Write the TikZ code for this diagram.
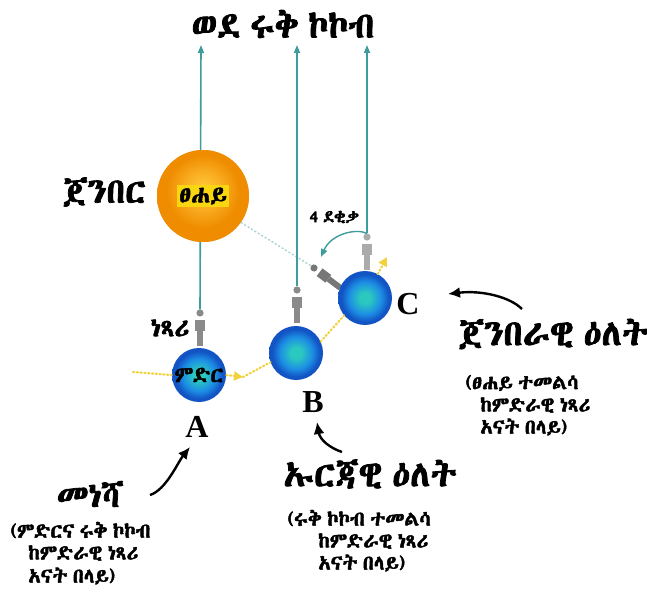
\documentclass[tikz,border=0pt]{standalone}
\usepackage{fontspec}
\usetikzlibrary{arrows.meta}
\IfFontExistsTF{Abyssinica SIL}{\newfontfamily\eth{Abyssinica SIL}[FakeBold=2.2,WordSpace=0.6]}{%
 \IfFontExistsTF{FreeSerif}{\newfontfamily\eth{FreeSerif}[FakeBold=2.2,WordSpace=0.6]}{%
  \IfFontExistsTF{FreeSans}{\newfontfamily\eth{FreeSans}[FakeBold=1.5,WordSpace=0.6]}{\newfontfamily\eth{DejaVu Sans}}}}
\newfontfamily\tms{Liberation Serif}
\definecolor{tealline}{HTML}{3E9C9C}
\definecolor{obsgray}{HTML}{8A8A8A}
\definecolor{obslight}{HTML}{ABABAB}
\definecolor{obsdark}{HTML}{777777}
\definecolor{orbitcol}{HTML}{F2D23C}
\definecolor{earthc}{HTML}{2BC8C0}
\definecolor{earthm}{HTML}{1C8EE4}
\definecolor{earthe}{HTML}{1254C4}
\definecolor{sunc}{HTML}{FFCC3A}
\definecolor{sunm}{HTML}{FAAE22}
\definecolor{sune}{HTML}{EF8C00}
\definecolor{sunlabel}{HTML}{F8D610}
\definecolor{dashcol}{HTML}{A8D4D4}
\pgfdeclareradialshading{earthshade}{\pgfpoint{0bp}{0bp}}{color(0bp)=(earthc); color(5bp)=(earthc); color(15bp)=(earthm); color(22bp)=(earthe); color(25bp)=(earthe); color(50bp)=(earthe)}
\pgfdeclareradialshading{sunshade}{\pgfpoint{0bp}{4bp}}{color(0bp)=(sunc); color(10bp)=(sunm); color(20bp)=(sune); color(25bp)=(sune); color(50bp)=(sune)}
\tikzset{
 earth/.style={circle, minimum size=54pt, inner sep=0pt, shading=earthshade},
 sunball/.style={circle, minimum size=92pt, inner sep=0pt, shading=sunshade},
 tealarrow/.style={draw=tealline, line width=1.6pt, -{Triangle[length=8pt,width=6pt]}, color=tealline},
 orbitline/.style={draw=orbitcol, line width=2.2pt, dash pattern=on 1.2pt off 2.6pt, line cap=round},
 orbittip/.style={-{Triangle[length=9pt,width=9pt,fill=orbitcol]}},
 blackarrow/.style={draw=black, line width=2.4pt, -{Latex[length=12pt,width=11pt]}},
 ethtxt/.style={font=\eth, text=black, inner sep=0pt},
 big/.style={font=\eth\fontsize{36}{36}\selectfont},
 small/.style={anchor=west, font=\eth\fontsize{20.5}{20.5}\selectfont},
 letter/.style={font=\tms\bfseries\fontsize{32}{32}\selectfont, inner sep=0pt},
 observer/.pic={
  \fill[pic actions] (0,0) circle (3.6pt);
  \fill[pic actions] (-4.8,7) rectangle (4.8,18);
  \fill[pic actions] (-3,18) rectangle (3,33);
  \coordinate (-head) at (0,-3.6);
 }
}
\begin{document}
\begin{tikzpicture}[x=1pt,y=-1pt]
\useasboundingbox (0,0) rectangle (647,593);
% arrow tops
\coordinate (topA) at (201,45);
\coordinate (topB) at (297,45);
\coordinate (topC) at (367,45);
% observers
\pic[fill=obsgray] (obsA) at (200,313) {observer};
\pic[fill=obsgray] (obsB) at (297,290) {observer};
\pic[fill=obslight] (obsC) at (367,237) {observer};
\pic[fill=obsdark, rotate=53] (obsT) at (314,268) {observer};
% sun
\node[sunball] (S) at (203,196) {};
\draw[dashcol, line width=1.4pt, dash pattern=on 2pt off 2pt] (S.-35) -- (obsT-head);
\draw[tealarrow] (obsA-head) -- (topA);
\draw[tealarrow] (obsB-head) -- (topB);
\draw[tealarrow] (obsC-head) -- (topC);
\node[sunball] (S) at (203,196) {};
\node[ethtxt, fill=sunlabel, inner xsep=2pt, inner ysep=3pt, font=\eth\fontsize{24}{24}\selectfont] (sunname) at (S) {ፀሐይ};
% orbit
\coordinate (orbStart) at (133,372);
\coordinate (orbMid) at (243,377);
\coordinate (orbEnd) at (387,257);
\node[earth] (A) at (199,375) {};
\node[earth] (B) at (296,353) {};
\node[earth] (C) at (365,298) {};
\draw[orbitline] (orbStart) -- (A.west);
\draw[orbitline, orbittip] (A.east) -- (orbMid);
\draw[orbitline] (orbMid) -- (B.200);
\draw[orbitline] (B.25) -- (C.220);
\draw[orbitline, orbittip] (C.62) -- (orbEnd);
\node[ethtxt, font=\eth\fontsize{22}{22}\selectfont] (earthname) at (A) {ምድር};
% rotation arrow
\coordinate (rotTip) at (321,257);
\draw[tealarrow, line width=1.4pt] (obsC-head) .. controls (356,228) and (331,234) .. (rotTip);
% texts
\node[ethtxt, big] (title) at (283,24) {ወደ ሩቅ ኮኮብ};
\node[ethtxt, font=\eth\fontsize{35}{35}\selectfont] (sunlbl) at (104,192) {ጀንበር};
\node[ethtxt, font=\eth\fontsize{26}{26}\selectfont] (obslbl) at (170,328) {ነጻሪ};
\node[ethtxt, font=\eth\fontsize{17}{17}\selectfont] (min4) at (334,217) {4 ደቂቃ};
\node[letter] (LA) at (197,427) {A};
\node[letter] (LB) at (313,402) {B};
\node[letter] (LC) at (408,304) {C};
% black arrows
\coordinate (cTail) at (522,309);
\coordinate (cTip) at (448,294);
\coordinate (bTail) at (342,452);
\coordinate (bTip) at (317,422);
\coordinate (aTail) at (150,495);
\coordinate (aTip) at (190,447);
\draw[blackarrow] (cTail) .. controls (510,297) and (482,290) .. (cTip);
\draw[blackarrow] (bTail) .. controls (330,448) and (320,440) .. (bTip);
\draw[blackarrow] (aTail) .. controls (166,490) and (178,462) .. (aTip);
% solar day
\node[ethtxt, big] (solar) at (553,334) {ጀንበራዊ ዕለት};
\node[ethtxt, small] (s1) at (465,383) {(ፀሐይ ተመልሳ};
\node[ethtxt, small] (s2) at (480,405) {ከምድራዊ ነጻሪ};
\node[ethtxt, small] (s3) at (480,427) {አናት በላይ)};
% sidereal day
\node[ethtxt, big] (sider) at (370,474) {ኡርጃዊ ዕለት};
\node[ethtxt, small] (d1) at (287,518) {(ሩቅ ኮኮብ ተመልሳ};
\node[ethtxt, small] (d2) at (318,541) {ከምድራዊ ነጻሪ};
\node[ethtxt, small] (d3) at (318,563) {አናት በላይ)};
% start
\node[ethtxt, font=\eth\fontsize{34}{34}\selectfont] (start) at (90,494) {መነሻ};
\node[ethtxt, small] (m1) at (10,530) {(ምድርና ሩቅ ኮኮብ};
\node[ethtxt, small] (m2) at (28,553) {ከምድራዊ ነጻሪ};
\node[ethtxt, small] (m3) at (28,576) {አናት በላይ)};
\end{tikzpicture}
\end{document}
